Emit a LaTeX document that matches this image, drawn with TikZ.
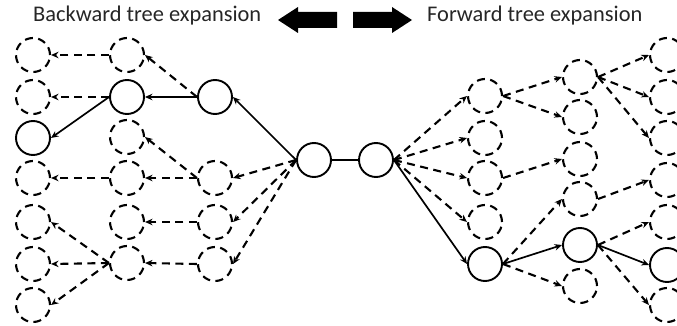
\documentclass[tikz,border=0pt]{standalone}
\usepackage{fontspec}
\setmainfont{Carlito}
\usetikzlibrary{arrows.meta}
\begin{document}
\begin{tikzpicture}[x=1pt,y=-1pt,
  st/.style={circle,draw,line width=1.9pt,minimum size=34pt,inner sep=0pt},
  dn/.style={circle,draw,line width=2.1pt,minimum size=34pt,inner sep=0pt,dash pattern=on 8pt off 5.4pt},
  se/.style={line width=1.7pt,-{Stealth[length=7.5pt,width=6.5pt]}},
  de/.style={line width=2.1pt,dash pattern=on 8pt off 5.5pt,-{Stealth[length=7.5pt,width=6.5pt]}},
  lab/.style={font=\fontsize{22.4}{26}\selectfont,text=black!85,anchor=base west,inner sep=0pt}]
\useasboundingbox (0,0) rectangle (677,326);
% labels and big arrows
\node[lab] (bt) at (33,22) {Backward tree expansion};
\node[lab] (ft) at (427,22) {Forward tree expansion};
\fill (278,20) -- (298,7) -- (298,12) -- (337,12) -- (337,28) -- (298,28) -- (298,33) -- cycle;
\fill (412,20) -- (392,7) -- (392,12) -- (353,12) -- (353,28) -- (392,28) -- (392,33) -- cycle;
% left nodes
\node[dn] (A1) at (33,55) {};
\node[dn] (A2) at (33,97) {};
\node[st] (A3) at (33,138) {};
\node[dn] (A4) at (33,178) {};
\node[dn] (A5) at (33,222) {};
\node[dn] (A6) at (33,264) {};
\node[dn] (A7) at (33,305) {};
\node[dn] (B1) at (127,55) {};
\node[st] (B2) at (127,97) {};
\node[dn] (B3) at (127,137) {};
\node[dn] (B4) at (127,178) {};
\node[dn] (B5) at (127,222) {};
\node[dn] (B6) at (127,263) {};
\node[st] (C2) at (215,97) {};
\node[dn] (C4) at (215,178) {};
\node[dn] (C5) at (215,222) {};
\node[dn] (C6) at (215,264) {};
\node[st] (L) at (314,160) {};
\node[st] (R) at (376,160) {};
% right nodes
\node[dn] (D1) at (485,96) {};
\node[dn] (D2) at (485,138) {};
\node[dn] (D3) at (485,178) {};
\node[dn] (D4) at (485,222) {};
\node[st] (D5) at (485,264) {};
\node[dn] (E1) at (580,77) {};
\node[dn] (E2) at (580,117) {};
\node[dn] (E3) at (580,159) {};
\node[dn] (E4) at (580,199) {};
\node[st] (E5) at (580,245) {};
\node[dn] (E6) at (580,286) {};
\node[dn] (F1) at (667,55) {};
\node[dn] (F2) at (667,97) {};
\node[dn] (F3) at (667,138) {};
\node[dn] (F4) at (667,180) {};
\node[dn] (F5) at (667,222) {};
\node[st] (F6) at (667,265) {};
\node[dn] (F7) at (667,305) {};
% left edges
\draw[se] (L.west) -- (C2.east);
\draw[se] (C2.west) -- (B2.east);
\draw[se] (B2.west) -- (A3.east);
\draw[de] (C2.west) -- (B1.east);
\draw[de] (B1.west) -- (A1.east);
\draw[de] (B2.west) -- (A2.east);
\draw[de] (L.west) -- (C4.east);
\draw[de] (L.west) -- (C5.east);
\draw[de] (L.west) -- (C6.east);
\draw[de] (C4.west) -- (B3.east);
\draw[de] (C4.west) -- (B4.east);
\draw[de] (B4.west) -- (A4.east);
\draw[de] (C5.west) -- (B5.east);
\draw[de] (C6.west) -- (B6.east);
\draw[de] (B6.west) -- (A5.east);
\draw[de] (B6.west) -- (A6.east);
\draw[de] (B6.west) -- (A7.east);
% middle
\draw[line width=1.9pt] (L) -- (R);
% right edges
\draw[se] (R.east) -- (D5.west);
\draw[de] (R.east) -- (D1.west);
\draw[de] (R.east) -- (D2.west);
\draw[de] (R.east) -- (D3.west);
\draw[de] (R.east) -- (D4.west);
\draw[de] (D1.east) -- (E1.west);
\draw[de] (D1.east) -- (E2.west);
\draw[de] (D3.east) -- (E3.west);
\draw[de] (D5.east) -- (E4.west);
\draw[se] (D5.east) -- (E5.west);
\draw[de] (D5.east) -- (E6.west);
\draw[de] (E1.east) -- (F1.west);
\draw[de] (E1.east) -- (F2.west);
\draw[de] (E1.east) -- (F3.west);
\draw[de] (E4.east) -- (F4.west);
\draw[de] (E5.east) -- (F5.west);
\draw[se] (E5.east) -- (F6.west);
\draw[de] (E5.east) -- (F7.west);
\end{tikzpicture}
\end{document}
